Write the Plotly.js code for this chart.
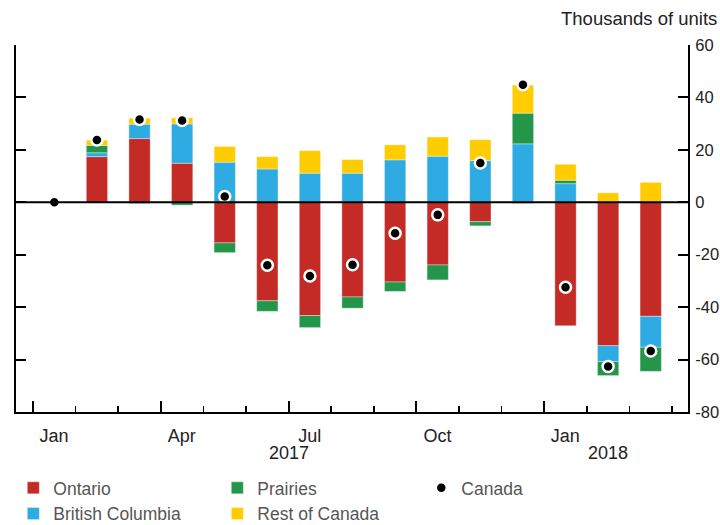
<!DOCTYPE html>
<html>
<head>
<meta charset="utf-8">
<script src="https://cdn.plot.ly/plotly-3.0.1.min.js"></script>
<style>
html,body{margin:0;padding:0;background:#fff;}
#chart{width:720px;height:525px;}
</style>
</head>
<body>
<div id="chart"></div>
<script>
// Months Jan 2017 .. Mar 2018
const months = ['2017-01','2017-02','2017-03','2017-04','2017-05','2017-06','2017-07','2017-08','2017-09','2017-10','2017-11','2017-12','2018-01','2018-02','2018-03'];
const ontario  = [0, 17.4, 24.3, 14.9, -15.5, -37.6, -43.2, -36.1, -30.4, -23.9, -7.4, -0.4, -47.1, -54.7, -43.5];
const bc       = [0, 1.5, 5.5, 15.0, 15.3, 12.7, 11.1, 11.1, 16.2, 17.6, 15.9, 22.3, 7.1, -6.1, -11.8];
const prairies = [0, 2.8, -0.5, -1.1, -3.7, -4.0, -4.6, -4.3, -3.6, -5.7, -1.6, 11.7, 1.3, -5.3, -9.2];
const rest     = [0, 2.0, 2.3, 2.3, 6.0, 4.7, 8.6, 5.2, 5.7, 7.3, 8.0, 10.7, 6.1, 3.6, 7.6];
const canada   = [0, 23.8, 31.6, 31.2, 2.2, -24.0, -28.1, -23.8, -11.8, -4.8, 15.0, 44.8, -32.4, -62.6, -56.7];

// quarter tick labels (placed at quarter starts, shown centred on first month)
const xTickText = ['Jan', 'Apr', 'Jul', 'Oct', 'Jan', ''];
const yTickVals = [-80, -60, -40, -20, 0, 20, 40, 60];
const yTickText = ['-80', '-60', '-40', '-20', '0', '20', '40', '60'];
const years = ['2017', '2018'];
const yearPos = [5.5, 13];

const xi = months.map((m, i) => i);
const majorBounds = [-0.5, 2.5, 5.5, 8.5, 11.5, 14.5];
const allBounds = months.map((m, i) => i - 0.5).concat([months.length - 0.5]);

const FONT = 'Liberation Sans, Arial, Helvetica, sans-serif';
const edge = {width: 0.6, color: 'rgba(255,255,255,0.6)'};

function barTrace(name, y, color, rank) {
  return {type: 'bar', name: name, x: xi, y: y, width: 0.5,
          marker: {color: color, line: edge}, legendrank: rank, hoverinfo: 'y'};
}

const traces = [
  barTrace('Ontario', ontario, '#C42B26', 1),
  barTrace('British Columbia', bc, '#2EABE2', 4),
  barTrace('Prairies', prairies, '#23964A', 2),
  barTrace('Rest of Canada', rest, '#FFCC00', 5),
  {type: 'scatter', mode: 'markers', name: 'Canada', x: xi, y: canada,
   marker: {color: '#000', size: 11, line: {color: '#fff', width: 2.5}}, legendrank: 3}
];

const layout = {
  width: 720, height: 525,
  margin: {l: 16, r: 32, t: 45, b: 113, autoexpand: false},
  paper_bgcolor: '#fff', plot_bgcolor: '#fff',
  font: {family: FONT, size: 18, color: '#222'},
  barmode: 'relative',
  bargap: 0,
  showlegend: true,
  legend: {orientation: 'h', x: -0.004, xanchor: 'left', y: -0.158, yanchor: 'top',
           entrywidth: 159, entrywidthmode: 'pixels', itemwidth: 30,
           font: {family: FONT, size: 17.5, color: '#555'}, tracegroupgap: 0},
  xaxis: {range: [-0.9, 14.875], tickmode: 'array', tickvals: majorBounds, ticktext: xTickText,
          ticks: 'inside', ticklen: 11, tickwidth: 2, tickcolor: '#000',
          minor: {tickmode: 'array', tickvals: allBounds, ticks: 'inside', ticklen: 6, tickwidth: 1.5, tickcolor: '#000', showgrid: false},
          ticklabelshift: 21, ticklabelstandoff: 6,
          showline: true, linecolor: '#000', linewidth: 2, showgrid: false,
          zeroline: false, tickfont: {size: 18, color: '#222'}, fixedrange: true},
  yaxis: {range: [-80, 60], side: 'right', tickmode: 'array', tickvals: yTickVals, ticktext: yTickText,
          ticks: 'inside', ticklen: 10, tickwidth: 2, tickcolor: '#000', showline: true, linecolor: '#000',
          linewidth: 2, mirror: 'ticks', showgrid: false, zeroline: false, ticklabelstandoff: 2,
          tickfont: {size: 16.5, color: '#222'}, fixedrange: true},
  shapes: [{type: 'line', xref: 'paper', yref: 'y', x0: 0, x1: 1, y0: 0, y1: 0,
            line: {color: '#000', width: 2}, layer: 'above'}],
  annotations: [
    {text: 'Thousands of units', xref: 'paper', yref: 'paper', x: 1, y: 1, xanchor: 'right', yanchor: 'bottom',
     xshift: 31, yshift: 14, showarrow: false, font: {size: 18.5, color: '#222'}}
  ].concat(years.map((t, k) => ({text: t, xref: 'x', yref: 'paper', x: yearPos[k], y: 0,
     xanchor: 'center', yanchor: 'top', yshift: -29, showarrow: false, font: {size: 18, color: '#222'}})))
};

Plotly.newPlot('chart', traces, layout, {displayModeBar: false, staticPlot: true});
</script>
</body>
</html>
